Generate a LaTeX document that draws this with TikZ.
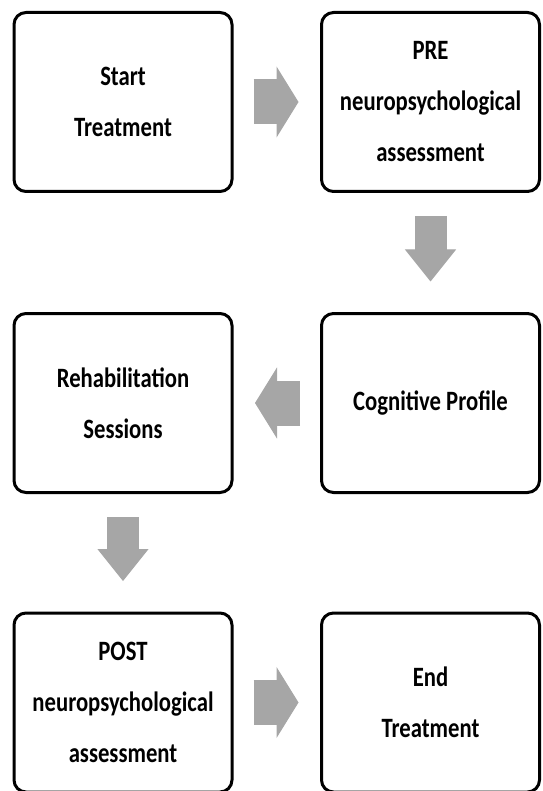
\documentclass[tikz,border=0pt]{standalone}
\usepackage{fontspec}
\setmainfont{Carlito}[FakeStretch=0.81]
\usepackage{tikz}
\usetikzlibrary{arrows.meta}
\definecolor{arrowgray}{HTML}{A6A6A6}

\begin{document}
\begin{tikzpicture}[x=1pt, y=-1pt,
  stagebox/.style={draw, line width=3pt, rounded corners=12pt, align=center,
    minimum width=218pt, minimum height=179pt,
    font=\fontsize{28pt}{51pt}\selectfont\bfseries},
  hflow/.style={draw=arrowgray, line width=45pt, shorten <=20pt, shorten >=21.5pt,
    -{Triangle[length=22pt, width=71pt, line width=1pt]}},
  vflow/.style={draw=arrowgray, line width=32pt, shorten <=23pt, shorten >=30.5pt,
    -{Triangle[length=32pt, width=51pt, line width=1pt]}}]
\useasboundingbox (0,0) rectangle (542,791);
% boxes
\node[stagebox] (start) at (123,102) {Start\\Treatment};
\node[stagebox] (pre) at (430.5,102) {PRE\\neuropsychological\\assessment};
\node[stagebox] (profile) at (430.5,403) {Cognitive Profile};
\node[stagebox] (rehab) at (123,403) {Rehabilitation\\Sessions};
\node[stagebox] (post) at (123,702.5) {POST\\neuropsychological\\assessment};
\node[stagebox] (end) at (430.5,702.5) {End\\Treatment};
% block arrows
\draw[hflow] (start) -- (pre);
\draw[vflow] (pre) -- (profile);
\draw[hflow] (profile) -- (rehab);
\draw[vflow] (rehab) -- (post);
\draw[hflow] (post) -- (end);
\end{tikzpicture}
\end{document}
